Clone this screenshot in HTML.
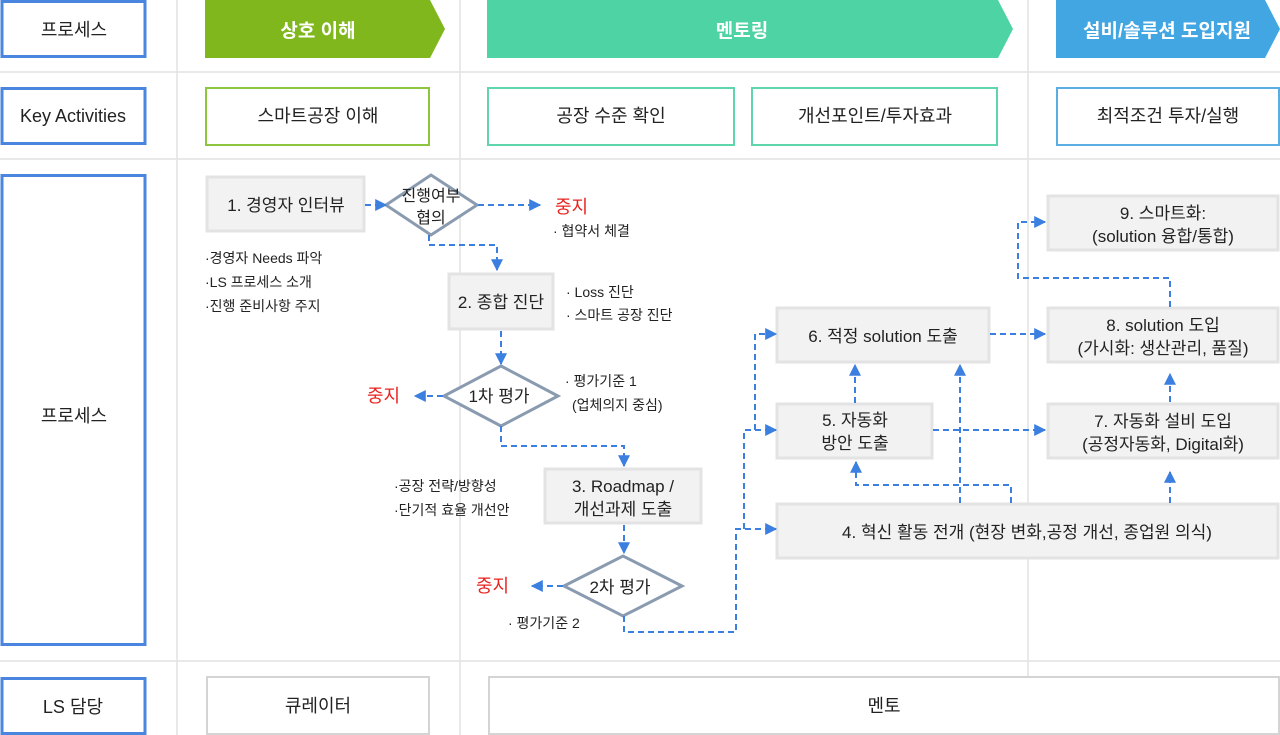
<!DOCTYPE html>
<html><head><meta charset="utf-8"><style>
html,body{margin:0;padding:0;background:#fff;}
svg{display:block;font-family:"Liberation Sans","Noto Sans CJK KR",sans-serif;}
</style></head><body>
<svg width="1280" height="735" viewBox="0 0 1280 735" xmlns="http://www.w3.org/2000/svg">
<defs>
<marker id="a" viewBox="0 0 10 10" refX="9" refY="5" markerWidth="12" markerHeight="12" markerUnits="userSpaceOnUse" orient="auto"><path d="M0,0L10,5L0,10z" fill="#3b7fe0"/></marker>
</defs>
<g stroke="#e2e2e2" stroke-width="1.5">
<line x1="0" y1="72" x2="1280" y2="72"/><line x1="0" y1="159" x2="1280" y2="159"/><line x1="0" y1="661" x2="1280" y2="661"/>
<line x1="177" y1="0" x2="177" y2="735"/><line x1="460" y1="0" x2="460" y2="735"/><line x1="1028" y1="0" x2="1028" y2="735"/>
</g>
<g fill="#fff" stroke="#4a86e0" stroke-width="3">
<rect x="2" y="1.5" width="143" height="55"/><rect x="2" y="88.5" width="143" height="55"/><rect x="2" y="175.5" width="143" height="469"/><rect x="2" y="678.5" width="143" height="55"/>
</g>
<g font-size="18" fill="#222" text-anchor="middle">
<text x="74" y="36">프로세스</text><text x="73" y="122">Key Activities</text><text x="74" y="422">프로세스</text><text x="73" y="713">LS 담당</text>
</g>
<polygon points="205,0 430,0 445,29 430,58 205,58" fill="#7fb71c"/>
<polygon points="487,0 998,0 1013,29 998,58 487,58" fill="#4dd3a4"/>
<polygon points="1056,0 1265,0 1280,29 1265,58 1056,58" fill="#41a6e2"/>
<g font-size="19" font-weight="bold" fill="#fff" text-anchor="middle">
<text x="318" y="37">상호 이해</text><text x="742" y="37">멘토링</text><text x="1167" y="37">설비/솔루션 도입지원</text>
</g>
<g fill="#fff" stroke-width="2">
<rect x="206" y="88" width="223" height="57" stroke="#8dc53e"/>
<rect x="488" y="88" width="246" height="57" stroke="#5ed5ab"/>
<rect x="752" y="88" width="245" height="57" stroke="#5ed5ab"/>
<rect x="1057" y="88" width="222" height="57" stroke="#5aaee3"/>
<rect x="207" y="677" width="222" height="57" stroke="#d4d4d4"/>
<rect x="489" y="677" width="790" height="57" stroke="#d4d4d4"/>
</g>
<g font-size="18" fill="#222" text-anchor="middle">
<text x="318" y="122">스마트공장 이해</text><text x="611" y="122">공장 수준 확인</text><text x="875" y="122">개선포인트/투자효과</text><text x="1168" y="122">최적조건 투자/실행</text>
<text x="318" y="712">큐레이터</text><text x="884" y="712">멘토</text>
</g>
<g fill="#f2f2f2" stroke="#e3e3e3" stroke-width="3">
<rect x="207" y="177" width="157" height="54"/>
<rect x="449" y="274" width="104" height="55"/>
<rect x="545" y="469" width="156" height="54"/>
<rect x="777" y="308" width="212" height="54"/>
<rect x="777" y="404" width="155" height="54"/>
<rect x="777" y="504" width="501" height="54"/>
<rect x="1048" y="196" width="230" height="54"/>
<rect x="1048" y="308" width="230" height="54"/>
<rect x="1048" y="404" width="230" height="54"/>
</g>
<g fill="#fff" stroke="#8a9bb0" stroke-width="3">
<polygon points="386,205 431,175 477,205 431,235"/>
<polygon points="444,396 501,366 558,396 501,426"/>
<polygon points="564,586 623,556 682,586 623,616"/>
</g>
<g font-size="17" fill="#222" text-anchor="middle">
<text x="286" y="211">1. 경영자 인터뷰</text>
<text x="431" y="201" font-size="16">진행여부</text><text x="431" y="223" font-size="16">협의</text>
<text x="501" y="308">2. 종합 진단</text>
<text x="499" y="402">1차 평가</text>
<text x="623" y="492">3. Roadmap /</text><text x="623" y="515">개선과제 도출</text>
<text x="620" y="593">2차 평가</text>
<text x="883" y="342">6. 적정 solution 도출</text>
<text x="855" y="426">5. 자동화</text><text x="855" y="449">방안 도출</text>
<text x="1027" y="538">4. 혁신 활동 전개 (현장 변화,공정 개선, 종업원 의식)</text>
<text x="1163" y="219">9. 스마트화:</text><text x="1163" y="242">(solution 융합/통합)</text>
<text x="1163" y="331">8. solution 도입</text><text x="1163" y="354">(가시화: 생산관리, 품질)</text>
<text x="1163" y="427">7. 자동화 설비 도입</text><text x="1163" y="450">(공정자동화, Digital화)</text>
</g>
<g font-size="18" fill="#e8231f">
<text x="555" y="213">중지</text><text x="367" y="402">중지</text><text x="476" y="592">중지</text>
</g>
<g font-size="14" fill="#222">
<text x="553" y="236">· 협약서 체결</text>
<text x="205" y="263">·경영자 Needs 파악</text><text x="205" y="287">·LS 프로세스 소개</text><text x="205" y="311">·진행 준비사항 주지</text>
<text x="566" y="297">· Loss 진단</text><text x="566" y="320">· 스마트 공장 진단</text>
<text x="565" y="386">· 평가기준 1</text><text x="572" y="410">(업체의지 중심)</text>
<text x="394" y="491">·공장 전략/방향성</text><text x="394" y="515">·단기적 효율 개선안</text>
<text x="508" y="628">· 평가기준 2</text>
</g>
<g fill="none" stroke="#3b7fe0" stroke-width="2" stroke-dasharray="6,4" marker-end="url(#a)">
<path d="M365,205H386"/>
<path d="M478,205H540"/>
<path d="M429,235V245H497V270"/>
<path d="M501,331V364"/>
<path d="M443,396H415"/>
<path d="M501,426V446H624V466"/>
<path d="M624,525V553"/>
<path d="M563,586H532"/>
<path d="M624,616V632H736V529H776"/>
<path d="M744,529V430H776"/>
<path d="M755,430V334H776"/>
<path d="M990,334H1045"/>
<path d="M933,430H1045"/>
<path d="M855,403V365"/>
<path d="M960,503V365"/>
<path d="M1011,503V485H856V462"/>
<path d="M1170,503V472"/>
<path d="M1170,402V374"/>
<path d="M1170,307V278H1018V222H1045"/>
</g>
</svg>
</body></html>
